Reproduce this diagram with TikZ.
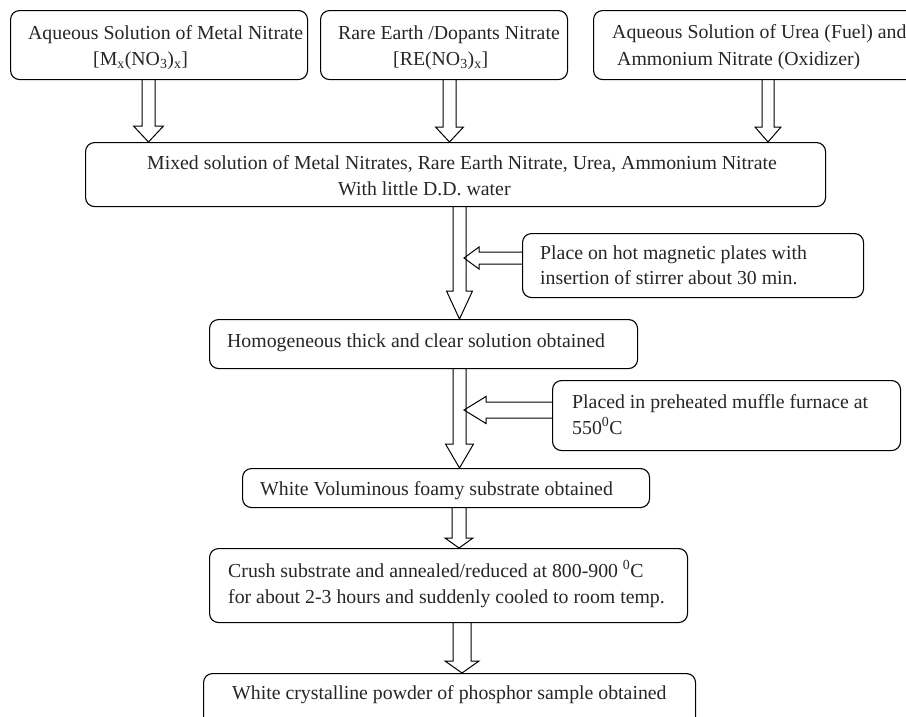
\documentclass[tikz,border=0pt]{standalone}
\usepackage{fontspec}
\setmainfont{Liberation Serif}
\usetikzlibrary{calc}

% hollow block arrow going down: x, from node, to node, shaft half width, head half width, head length
\newcommand{\hollowdown}[6]{%
  \draw[hollow] let \p1=(#2.south), \p2=(#3.north) in
    (#1pt-#4pt,\y1) -- (#1pt-#4pt,\y2+#6pt) -- (#1pt-#5pt,\y2+#6pt) -- (#1pt,\y2)
    -- (#1pt+#5pt,\y2+#6pt) -- (#1pt+#4pt,\y2+#6pt) -- (#1pt+#4pt,\y1);}
% hollow block arrow going left: from node, tip coordinate, shaft half width, head half width, head length
\newcommand{\hollowleft}[5]{%
  \draw[hollow] let \p1=(#1.west), \p2=(#2) in
    (\x1,\y2+#3pt) -- (\x2+#5pt,\y2+#3pt) -- (\x2+#5pt,\y2+#4pt) -- (\x2,\y2)
    -- (\x2+#5pt,\y2-#4pt) -- (\x2+#5pt,\y2-#3pt) -- (\x1,\y2-#3pt);}

\begin{document}
\begin{tikzpicture}[x=1pt, y=1pt,
    stepbox/.style={draw, line width=1.1pt, rounded corners=9pt, inner sep=0pt,
                    anchor=north west},
    txt/.style={inner sep=0pt, anchor=base west, text=black!85,
                font=\fontsize{19.8}{24}\selectfont},
    hollow/.style={draw, line width=1pt, line join=miter}
]
\path[use as bounding box, clip] (0,0) rectangle (906,-716);
\fill[white] (0,0) rectangle (906,-716);

% starting solutions
\node[stepbox, minimum width=297pt, minimum height=69pt] (metal) at (10,-10) {};
\node[stepbox, minimum width=247pt, minimum height=69pt] (dopant) at (320,-10) {};
\node[stepbox, minimum width=330pt, minimum height=69pt] (urea) at (593,-10) {};

\node[txt] (metal1) at (28,-39) {Aqueous Solution of Metal Nitrate};
\node[txt] (metal2) at (93,-65) {[M\textsubscript{x}(NO\textsubscript{3})\textsubscript{x}]};
\node[txt] (dopant1) at (338,-39) {Rare Earth /Dopants Nitrate};
\node[txt] (dopant2) at (393,-65) {[RE(NO\textsubscript{3})\textsubscript{x}]};
\node[txt] (urea1) at (612,-38) {Aqueous Solution of Urea (Fuel) and};
\node[txt] (urea2) at (617,-65) {Ammonium Nitrate (Oxidizer)};

% mixing
\node[stepbox, minimum width=740pt, minimum height=64pt] (mixed) at (85,-142) {};
\node[txt] (mixed1) at (147,-169) {Mixed solution of Metal Nitrates, Rare Earth Nitrate, Urea, Ammonium Nitrate};
\node[txt] (mixed2) at (338,-195) {With little D.D. water};

\hollowdown{148.5}{metal}{mixed}{6.5}{15}{16}
\hollowdown{449.5}{dopant}{mixed}{6.5}{14}{15}
\hollowdown{768}{urea}{mixed}{6}{13}{15}

% stirring
\node[stepbox, minimum width=341pt, minimum height=64pt] (stir) at (522,-233) {};
\node[txt] (stir1) at (540,-259) {Place on hot magnetic plates with};
\node[txt] (stir2) at (540,-284) {insertion of stirrer about 30 min.};

\node[stepbox, minimum width=428pt, minimum height=49pt] (homog) at (209,-319) {};
\node[txt] (homog1) at (227,-347) {Homogeneous thick and clear solution obtained};

\hollowdown{459.5}{mixed}{homog}{6.5}{13}{28}
\coordinate (stirtip) at (464,-258);
\hollowleft{stir}{stirtip}{6}{11}{15}

% combustion
\node[stepbox, minimum width=348pt, minimum height=70pt] (furnace) at (552,-380) {};
\node[txt] (furnace1) at (572,-408) {Placed in preheated muffle furnace at};
\node[txt] (furnace2) at (572,-434) {550\textsuperscript{0}C};

\node[stepbox, minimum width=407pt, minimum height=39pt] (foamy) at (242,-468) {};
\node[txt] (foamy1) at (260,-495) {White Voluminous foamy substrate obtained};

\hollowdown{459.5}{homog}{foamy}{6.5}{14}{24}
\coordinate (furnacetip) at (464,-410);
\hollowleft{furnace}{furnacetip}{8}{13.5}{22}

% annealing
\node[stepbox, minimum width=478pt, minimum height=74pt] (anneal) at (209,-548) {};
\node[txt] (anneal1) at (228,-577) {Crush substrate and annealed/reduced at 800-900 \textsuperscript{0}C};
\node[txt] (anneal2) at (228,-603) {for about 2-3 hours and suddenly cooled to room temp.};

\node[stepbox, minimum width=492pt, minimum height=70pt] (powder) at (203,-673) {};
\node[txt] (powder1) at (232,-699) {White crystalline powder of phosphor sample obtained};

\hollowdown{459}{foamy}{anneal}{7}{14}{10}
\hollowdown{462}{anneal}{powder}{9}{17}{12}

\end{tikzpicture}
\end{document}
